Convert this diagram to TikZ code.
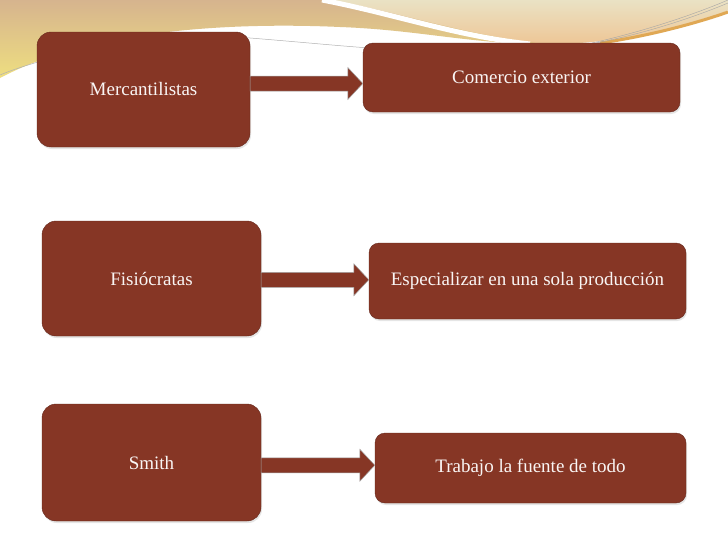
\documentclass[tikz,border=0pt]{standalone}
\usepackage{fontspec}
\setmainfont{Liberation Serif}
\usetikzlibrary{calc, shadows}

\definecolor{ladrillo}{RGB}{134,54,37}
\definecolor{arena}{RGB}{214,180,142}
\definecolor{amarillo}{RGB}{238,222,128}
\definecolor{crema}{RGB}{234,226,196}
\definecolor{melocoton}{RGB}{238,198,150}
\definecolor{oro}{RGB}{224,168,84}

% flecha gruesa entre dos cajas
\newcommand{\flecha}[2]{%
  \coordinate (m) at ($(#1.east)!.5!(#2.west)$);
  \coordinate (fa) at (#1.east |- m);
  \coordinate (fb) at (#2.west |- m);
  \draw[bloque] ($(fa)+(0,-7.5)$) -- ($(fb)+(-15,-7.5)$) -- ($(fb)+(-15,-16)$)
    -- (fb) -- ($(fb)+(-15,16)$) -- ($(fb)+(-15,7.5)$) -- ($(fa)+(0,7.5)$) -- cycle;
}

\begin{document}
\begin{tikzpicture}[x=1pt, y=-1pt]
      \tikzstyle{caja} = [
        rectangle,
        draw=ladrillo!75!black,
        fill=ladrillo,
        text=white!95!ladrillo,
        text centered,
        inner sep=0pt,
        drop shadow={opacity=0.2, shadow xshift=1pt, shadow yshift=-2pt},
        font=\fontsize{19}{22}\selectfont
      ]

      \tikzstyle{grande} = [
        caja,
        rounded corners=14pt
      ]

      \tikzstyle{larga} = [
        caja,
        rounded corners=10pt
      ]

      \tikzstyle{bloque} = [
        fill=ladrillo,
        draw=gray!70,
        line width=0.5pt
      ]

      \fill[white] (0,0) rectangle (728,546);
      \useasboundingbox (0,0) rectangle (728,546);

      % cabecera
      \shade[top color=arena, bottom color=amarillo] (0,0) -- (728,0) -- (728,10)
        .. controls (690,26) and (620,44) .. (545,44)
        .. controls (470,44) and (420,30) .. (340,27)
        .. controls (230,22) and (90,30) .. (0,78) -- cycle;
      \shade[top color=crema, bottom color=melocoton] (330,0)
        .. controls (400,12) and (460,34) .. (545,44)
        .. controls (620,44) and (690,26) .. (728,10) -- (728,0) -- cycle;
      \draw[white, line width=5pt] (322,0) .. controls (395,14) and (455,36) .. (530,44);
      \draw[oro, line width=3pt] (600,43) .. controls (650,36) and (700,22) .. (728,12);
      \draw[gray!70, line width=0.4pt] (592,43) .. controls (650,30) and (700,12) .. (728,0);
      \draw[gray!70, line width=0.4pt] (596,43) .. controls (652,32) and (702,14) .. (728,3);
      \draw[gray!60, line width=0.5pt] (0,75) .. controls (40,58) and (150,30) .. (250,38)
        .. controls (300,42) and (340,46) .. (370,48);

      \node[grande, minimum width=213pt, minimum height=115pt] (merc) at (143.5,89.5) {Mercantilistas};
      \node[larga, minimum width=317pt, minimum height=69pt] (comercio) at (521.5,77.5) {Comercio exterior};
      \node[grande, minimum width=219pt, minimum height=115pt] (fisio) at (151.5,278.5) {Fisiócratas};
      \node[larga, minimum width=317pt, minimum height=76pt] (espec) at (527.5,281) {Especializar en una sola producción};
      \node[grande, minimum width=219pt, minimum height=117pt] (smith) at (151.5,462.5) {Smith};
      \node[larga, minimum width=311pt, minimum height=70pt] (trabajo) at (530.5,468) {Trabajo la fuente de todo};

      \flecha{merc}{comercio}
      \flecha{fisio}{espec}
      \flecha{smith}{trabajo}
    \end{tikzpicture}
\end{document}
